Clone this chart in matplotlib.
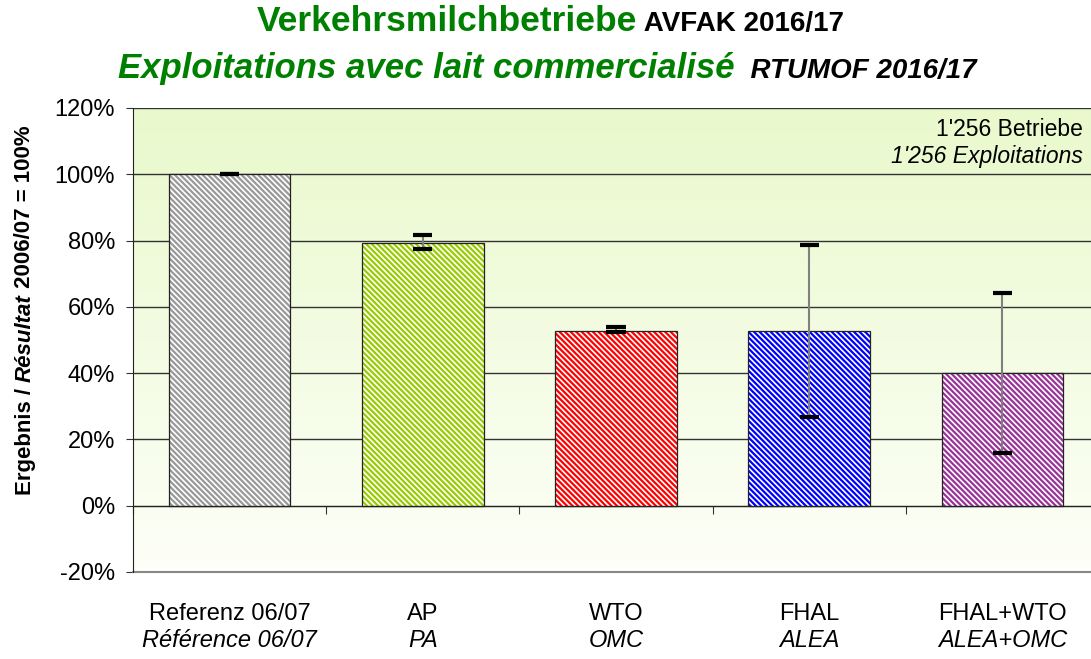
import matplotlib
matplotlib.use("Agg")
import matplotlib.pyplot as plt
import numpy as np
from matplotlib.colors import LinearSegmentedColormap
from matplotlib.transforms import blended_transform_factory

plt.rcParams['font.family'] = ['Liberation Sans', 'DejaVu Sans']
plt.rcParams['hatch.linewidth'] = 1.6

# data (percent of 2006/07 result)
labels_de = ['Referenz 06/07', 'AP', 'WTO', 'FHAL', 'FHAL+WTO']
labels_fr = ['Référence 06/07', 'PA', 'OMC', 'ALEA', 'ALEA+OMC']
values = [100.0, 79.3, 52.7, 52.7, 40.0]
err_low = [100.0, 77.4, 52.4, 26.9, 16.0]
err_high = [100.0, 81.6, 53.8, 78.8, 64.2]
bar_colors = ['#999999', '#99cc00', '#ff0000', '#0000ff', '#993399']
yticks = [-20, 0, 20, 40, 60, 80, 100, 120]

fig = plt.figure(figsize=(10.91, 6.59), dpi=100)
ax = fig.add_axes([133/1091, 87/659, 966/1091, 464/659])

# background gradient of the plot area
cmap = LinearSegmentedColormap.from_list('bg', ['#fdfff8', '#e9f9cc'])
grad = np.linspace(0, 1, 256).reshape(-1, 1)
ax.imshow(grad, extent=[-0.5, 4.5, -20, 120], aspect='auto', cmap=cmap,
          origin='lower', zorder=0)

x = np.arange(len(values))
ax.bar(x, values, width=0.63, facecolor='white', edgecolor=bar_colors,
       hatch='\\' * 6, linewidth=0, zorder=2)
ax.bar(x, values, width=0.63, fill=False, edgecolor='#222222',
       linewidth=0.9, zorder=3)

# error bars: grey stems, black caps
ax.vlines(x, err_low, err_high, color='#808080', linewidth=1.5, zorder=4)
ax.hlines(err_low, x - 0.05, x + 0.05, color='black', linewidth=3, zorder=5)
ax.hlines(err_high, x - 0.05, x + 0.05, color='black', linewidth=3, zorder=5)

ax.set_xlim(-0.5, 4.5)
ax.set_ylim(-20, 120)
ax.set_yticks(yticks)
ax.set_yticklabels([f'{v}%' for v in yticks], fontsize=17)
ax.tick_params(axis='y', direction='out', length=5, color='#333333', pad=8)
ax.yaxis.grid(True, color='#333333', linewidth=1)
ax.set_axisbelow(True)
ax.axhline(-20, color='#888888', linewidth=1.5, clip_on=False, zorder=1)

ax.spines['bottom'].set_position(('data', 0))
ax.spines['bottom'].set_color('#222222')
ax.spines['top'].set_visible(False)
ax.spines['right'].set_visible(False)
ax.spines['left'].set_color('#222222')
ax.set_xticks(np.arange(-0.5, 4.6, 1))
ax.set_xticklabels([])
ax.tick_params(axis='x', direction='out', length=6, color='#333333')

tr = blended_transform_factory(ax.transData, ax.transAxes)
for i in range(len(labels_de)):
    ax.text(i, -0.1034, labels_de[i], transform=tr, ha='center', va='baseline',
            fontsize=17)
    ax.text(i, -0.1620, labels_fr[i], transform=tr, ha='center', va='baseline',
            fontsize=17, style='italic')

ax.text(0.9834, 0.9397, "1'256 Betriebe", transform=ax.transAxes,
        ha='right', va='baseline', fontsize=16.5)
ax.text(0.9834, 0.8815, "1'256 Exploitations", transform=ax.transAxes,
        ha='right', va='baseline', fontsize=16.5, style='italic')

# y label built from pieces (bold / bold italic)
y1 = fig.text(25/1091, 164/659, 'Ergebnis / ', rotation=90, ha='center',
              va='bottom', fontsize=16, fontweight='bold')
y2 = ax.annotate('Résultat', xy=(0.5, 1), xycoords=y1, rotation=90,
                 ha='center', va='bottom', fontsize=16, fontweight='bold',
                 style='italic', annotation_clip=False)
ax.annotate(' 2006/07 = 100%', xy=(0.5, 1), xycoords=y2, rotation=90,
            ha='center', va='bottom', fontsize=16, fontweight='bold',
            annotation_clip=False)

# title lines
t1 = fig.text(257/1091, (659 - 31)/659, 'Verkehrsmilchbetriebe', ha='left',
              va='baseline', fontsize=25.5, fontweight='bold', color='#008000')
ax.annotate(' AVFAK 2016/17', xy=(1, 659 - 31), xycoords=(t1, 'figure pixels'),
            ha='left', va='baseline', fontsize=20, fontweight='bold',
            color='black', annotation_clip=False)
t2 = fig.text(118/1091, (659 - 78)/659, 'Exploitations avec lait commercialisé',
              ha='left', va='baseline', fontsize=25, fontweight='bold',
              style='italic', color='#008000')
ax.annotate('  RTUMOF 2016/17', xy=(1, 659 - 78), xycoords=(t2, 'figure pixels'),
            ha='left', va='baseline', fontsize=20, fontweight='bold',
            style='italic', color='black', annotation_clip=False)

fig.savefig('out.png', dpi=100)
